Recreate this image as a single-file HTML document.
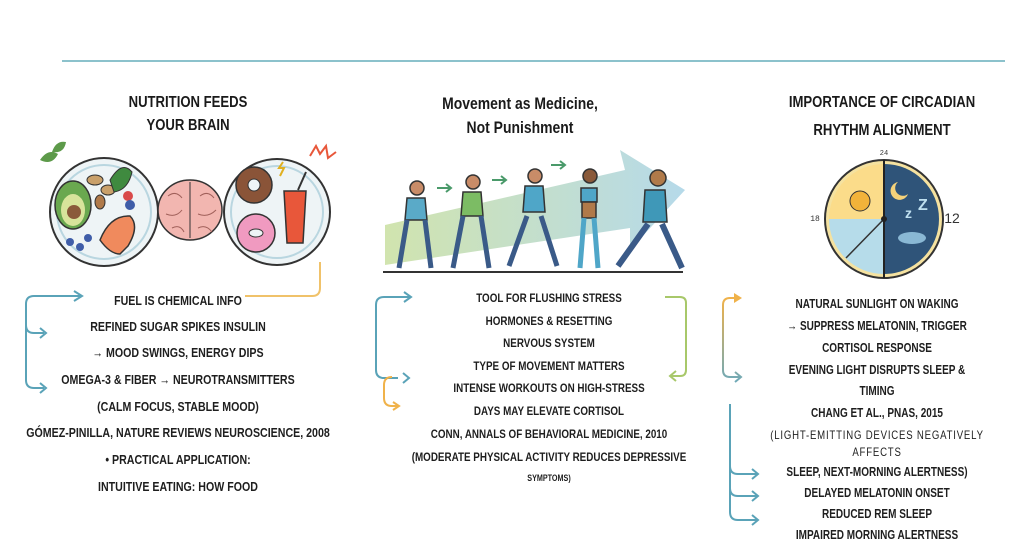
<!DOCTYPE html>
<html><head><meta charset="utf-8"><style>
body{margin:0;width:1024px;height:559px;background:#fff;overflow:hidden;position:relative;font-family:"Liberation Sans",sans-serif}
.t{position:absolute;transform:translateX(-50%) scaleX(0.8);white-space:nowrap;font-weight:bold;color:#1e1e1e;letter-spacing:0}
.h{position:absolute;transform:translateX(-50%) scaleX(0.82);white-space:nowrap;font-weight:bold;color:#1a1a1a;font-size:16px}
svg{position:absolute;left:0;top:0}
</style></head><body>
<svg width="1024" height="559" viewBox="0 0 1024 559">
<defs>
<linearGradient id="band" x1="0" x2="1"><stop offset="0" stop-color="#c9dfa0"/><stop offset="1" stop-color="#a9d3e6"/></linearGradient>
<linearGradient id="og" x1="0" y1="0" x2="0" y2="1"><stop offset="0" stop-color="#f0b24a"/><stop offset="1" stop-color="#6fa9b8"/></linearGradient>
</defs>
<line x1="62" y1="61" x2="1005" y2="61" stroke="#8cc2cc" stroke-width="2"/>
<!-- col1 illus -->
<circle cx="104" cy="212" r="54" fill="#eef4f6" stroke="#333" stroke-width="2"/>
<circle cx="104" cy="212" r="47" fill="none" stroke="#b9d6e0" stroke-width="2"/>
<ellipse cx="73" cy="205" rx="18" ry="24" fill="#6aa84f" stroke="#333" stroke-width="1.5"/>
<ellipse cx="73" cy="210" rx="12" ry="16" fill="#d8e49b"/>
<circle cx="74" cy="212" r="7" fill="#8a5a3a"/>
<path d="M100 240 q10 -25 30 -24 q10 10 -2 30 l-8 8 q-10 0 -20 -14z" fill="#f08a5d" stroke="#333" stroke-width="1.5"/>
<circle cx="70" cy="242" r="4" fill="#3f5da8"/><circle cx="80" cy="247" r="4" fill="#3f5da8"/><circle cx="88" cy="238" r="4" fill="#3f5da8"/>
<ellipse cx="95" cy="180" rx="8" ry="5" fill="#c9a06a" stroke="#333"/><ellipse cx="108" cy="190" rx="7" ry="5" fill="#c9a06a" stroke="#333"/>
<ellipse cx="100" cy="202" rx="5" ry="7" fill="#b07a4a" stroke="#333"/>
<path d="M110 180 q12 -20 22 -8 q-4 18 -18 20z" fill="#3f8a3f" stroke="#333"/>
<circle cx="128" cy="196" r="5" fill="#d94a4a"/><circle cx="130" cy="205" r="5" fill="#3f5da8"/>
<path d="M40 160 q8 -12 18 -6 q-6 12 -18 6z M52 152 q4 -12 14 -10 q-2 12 -14 10z" fill="#5d9a4a"/>
<ellipse cx="190" cy="210" rx="32" ry="30" fill="#f2b6b0" stroke="#333" stroke-width="1.5"/>
<line x1="190" y1="182" x2="190" y2="238" stroke="#333"/>
<path d="M168 196 q8 -6 14 2 M200 196 q8 -6 14 2 M166 214 q10 4 16 -4 M198 214 q10 4 18 -4 M172 228 q8 -4 12 4 M198 228 q8 -4 14 4" fill="none" stroke="#a0605a"/>
<circle cx="277" cy="212" r="53" fill="#eef4f6" stroke="#333" stroke-width="2"/>
<circle cx="277" cy="212" r="46" fill="none" stroke="#b9d6e0" stroke-width="2"/>
<circle cx="254" cy="185" r="18" fill="#8a5438" stroke="#333" stroke-width="1.5"/><circle cx="254" cy="185" r="6" fill="#eef4f6" stroke="#333"/>
<circle cx="256" cy="233" r="19" fill="#f09ac0" stroke="#333" stroke-width="1.5"/><ellipse cx="256" cy="233" rx="7" ry="4" fill="#eef4f6" stroke="#333"/>
<path d="M284 191 h22 l-3 52 h-16z" fill="#e8573a" stroke="#333" stroke-width="1.5"/>
<line x1="298" y1="190" x2="306" y2="172" stroke="#333" stroke-width="2"/>
<path d="M310 156 l6 -10 l4 8 l6 -8 l2 12 l8 -6" fill="none" stroke="#e8573a" stroke-width="2"/>
<path d="M283 162 l-4 6 h5 l-4 8" fill="none" stroke="#e0b020" stroke-width="2"/>
<!-- col1 connectors -->
<path d="M320 262 V288 q0 8 -8 8 H245" fill="none" stroke="#f0c26a" stroke-width="2"/>
<path d="M80 296 H34 q-8 0 -8 8 V380 q0 8 8 8 H44 M26 325 q0 8 8 8 H44" fill="none" stroke="#5aa3b8" stroke-width="2"/>
<path d="M74 291 l8 5 l-8 5 M40 328 l6 5 l-6 5 M40 383 l6 5 l-6 5" fill="none" stroke="#5aa3b8" stroke-width="2"/>
<!-- col2 illus -->
<path d="M385 225 L625 170 L620 150 L685 190 L630 250 L630 228 L385 265z" fill="url(#band)" opacity="0.85"/>
<line x1="383" y1="272" x2="683" y2="272" stroke="#333" stroke-width="2"/>
<g stroke="#333" stroke-width="1.5">
<circle cx="417" cy="188" r="7" fill="#c98c68"/><path d="M407 198 h18 l2 22 h-22z" fill="#5aaac8"/><path d="M407 220 l-8 48 M425 220 l6 48" stroke="#3a5a88" stroke-width="5"/>
<circle cx="473" cy="182" r="7" fill="#c98c68"/><path d="M463 192 h18 l2 24 h-22z" fill="#7cbc64"/><path d="M463 216 l-10 52 M481 216 l8 52" stroke="#3a5a88" stroke-width="5"/>
<circle cx="535" cy="176" r="7" fill="#c98c68"/><path d="M525 186 h18 l2 26 h-22z" fill="#4fa6c8"/><path d="M527 216 l-18 50 M541 216 l16 50" stroke="#3a5a88" stroke-width="5"/>
<circle cx="590" cy="176" r="7" fill="#8a5a3a"/><path d="M581 188 h16 v14 h-16z" fill="#4fa6c8"/><path d="M582 202 h14 v16 h-14z" fill="#b07a4a"/><path d="M584 218 l-4 50 M594 218 l4 50" stroke="#4fa6c8" stroke-width="5"/>
<circle cx="658" cy="178" r="8" fill="#b07a4a"/><path d="M645 190 h20 l2 32 h-24z" fill="#3f98b8"/><path d="M648 224 l-30 42 M662 224 l20 44" stroke="#3a5a88" stroke-width="6"/>
</g>
<path d="M437 188 h14 M446 184 l5 4 l-5 4 M492 180 h14 M501 176 l5 4 l-5 4 M551 165 h14 M560 161 l5 4 l-5 4" fill="none" stroke="#4a9a6a" stroke-width="2"/>
<!-- col2 connectors -->
<path d="M410 297 H384 q-8 0 -8 8 V370 q0 8 8 8 H398 M403 373 l6 5 l-6 5" fill="none" stroke="#5aa3b8" stroke-width="2"/>
<path d="M404 292 l7 5 l-7 5" fill="none" stroke="#5aa3b8" stroke-width="2"/>
<path d="M392 377 q-8 0 -8 8 V398 q0 8 8 8 H398 M393 402 l6 4 l-6 4" fill="none" stroke="#f0b24a" stroke-width="2"/>
<path d="M665 297 H680 q6 0 6 6 V370 q0 6 -6 6 H670 M676 371 l-6 5 l6 5" fill="none" stroke="#a8c86a" stroke-width="2"/>
<!-- col3 clock -->
<circle cx="884" cy="219" r="59" fill="#f5e2a0" stroke="#333" stroke-width="2"/>
<path d="M884 164 A55 55 0 0 1 884 274z" fill="#2f5479"/>
<path d="M884 164 A55 55 0 0 0 829 219 L884 219z" fill="#fbdc8a"/>
<path d="M829 219 A55 55 0 0 0 884 274 L884 219z" fill="#b6dcea"/>
<path d="M884 219 L846 258" stroke="#333" stroke-width="1.5"/>
<circle cx="860" cy="201" r="10" fill="#f2b33a" stroke="#333"/>
<path d="M898 182 a9 9 0 1 0 10 12 a7 7 0 0 1 -10 -12z" fill="#f5d27a"/>
<text x="905" y="218" fill="#bfe0f0" font-size="14" font-weight="bold" font-family="Liberation Sans">z</text>
<text x="918" y="210" fill="#bfe0f0" font-size="16" font-weight="bold" font-family="Liberation Sans">Z</text>
<ellipse cx="912" cy="238" rx="14" ry="6" fill="#8ab8d4"/>
<line x1="884" y1="160" x2="884" y2="278" stroke="#222" stroke-width="2"/>
<circle cx="884" cy="219" r="3" fill="#222"/>
<text x="884" y="155" font-size="7" text-anchor="middle" font-family="Liberation Mono" fill="#333">24</text>
<text x="815" y="221" font-size="8" text-anchor="middle" font-family="Liberation Mono" fill="#333">18</text>
<text x="952" y="223" font-size="14" text-anchor="middle" font-family="Liberation Sans" fill="#333">12</text>
<!-- col3 connectors -->
<path d="M740 298 H730 q-7 0 -7 7 V370 q0 7 7 7 H740 M735 372 l6 5 l-6 5" fill="none" stroke="url(#og)" stroke-width="2"/>
<path d="M734 293 l8 5 l-8 5z" fill="#f0b24a"/>
<path d="M730 404 V512 q0 8 8 8 H758 M730 466 q0 8 8 8 H758 M730 488 q0 8 8 8 H758 M752 469 l6 5 l-6 5 M752 491 l6 5 l-6 5 M752 515 l6 5 l-6 5" fill="none" stroke="#5aa3b8" stroke-width="2"/>
</svg>
<div class="h" style="left:188px;top:94px">NUTRITION FEEDS</div>
<div class="h" style="left:188px;top:117px">YOUR BRAIN</div>
<div class="h" style="left:520px;top:94px;font-size:17px">Movement as Medicine,</div>
<div class="h" style="left:520px;top:118px;font-size:17px">Not Punishment</div>
<div class="h" style="left:882px;top:94px">IMPORTANCE OF CIRCADIAN</div>
<div class="h" style="left:882px;top:122px">RHYTHM ALIGNMENT</div>

<div class="t" style="left:178px;top:293px;font-size:13.3px">FUEL IS CHEMICAL INFO</div>
<div class="t" style="left:178px;top:319px;font-size:13.3px">REFINED SUGAR SPIKES INSULIN</div>
<div class="t" style="left:178px;top:345px;font-size:13.3px">→ MOOD SWINGS, ENERGY DIPS</div>
<div class="t" style="left:178px;top:372px;font-size:13.3px">OMEGA-3 &amp; FIBER → NEUROTRANSMITTERS</div>
<div class="t" style="left:178px;top:399px;font-size:13.3px">(CALM FOCUS, STABLE MOOD)</div>
<div class="t" style="left:178px;top:425px;font-size:13.3px">GÓMEZ-PINILLA, NATURE REVIEWS NEUROSCIENCE, 2008</div>
<div class="t" style="left:178px;top:452px;font-size:13.3px">• PRACTICAL APPLICATION:</div>
<div class="t" style="left:178px;top:479px;font-size:13.3px">INTUITIVE EATING: HOW FOOD</div>

<div class="t" style="left:549px;top:291px;font-size:12.3px">TOOL FOR FLUSHING STRESS</div>
<div class="t" style="left:549px;top:314px;font-size:12.3px">HORMONES &amp; RESETTING</div>
<div class="t" style="left:549px;top:336px;font-size:12.3px">NERVOUS SYSTEM</div>
<div class="t" style="left:549px;top:359px;font-size:12.3px">TYPE OF MOVEMENT MATTERS</div>
<div class="t" style="left:549px;top:381px;font-size:12.3px">INTENSE WORKOUTS ON HIGH-STRESS</div>
<div class="t" style="left:549px;top:404px;font-size:12.3px">DAYS MAY ELEVATE CORTISOL</div>
<div class="t" style="left:549px;top:427px;font-size:12.3px">CONN, ANNALS OF BEHAVIORAL MEDICINE, 2010</div>
<div class="t" style="left:549px;top:450px;font-size:12.3px">(MODERATE PHYSICAL ACTIVITY REDUCES DEPRESSIVE</div>
<div class="t" style="left:549px;top:473px;font-size:9px">SYMPTOMS)</div>

<div class="t" style="left:877px;top:297px;font-size:12.5px">NATURAL SUNLIGHT ON WAKING</div>
<div class="t" style="left:877px;top:319px;font-size:12.5px">→ SUPPRESS MELATONIN, TRIGGER</div>
<div class="t" style="left:877px;top:341px;font-size:12.5px">CORTISOL RESPONSE</div>
<div class="t" style="left:877px;top:363px;font-size:12.5px">EVENING LIGHT DISRUPTS SLEEP &amp;</div>
<div class="t" style="left:877px;top:384px;font-size:12.5px">TIMING</div>
<div class="t" style="left:877px;top:406px;font-size:12.5px">CHANG ET AL., PNAS, 2015</div>
<div class="t" style="left:877px;top:428px;font-size:12px;font-weight:normal;letter-spacing:1px">(LIGHT-EMITTING DEVICES NEGATIVELY</div>
<div class="t" style="left:877px;top:445px;font-size:12px;font-weight:normal;letter-spacing:1px">AFFECTS</div>
<div class="t" style="left:877px;top:465px;font-size:12.5px">SLEEP, NEXT-MORNING ALERTNESS)</div>
<div class="t" style="left:877px;top:486px;font-size:12.5px">DELAYED MELATONIN ONSET</div>
<div class="t" style="left:877px;top:507px;font-size:12.5px">REDUCED REM SLEEP</div>
<div class="t" style="left:877px;top:528px;font-size:12.5px">IMPAIRED MORNING ALERTNESS</div>
</body></html>
